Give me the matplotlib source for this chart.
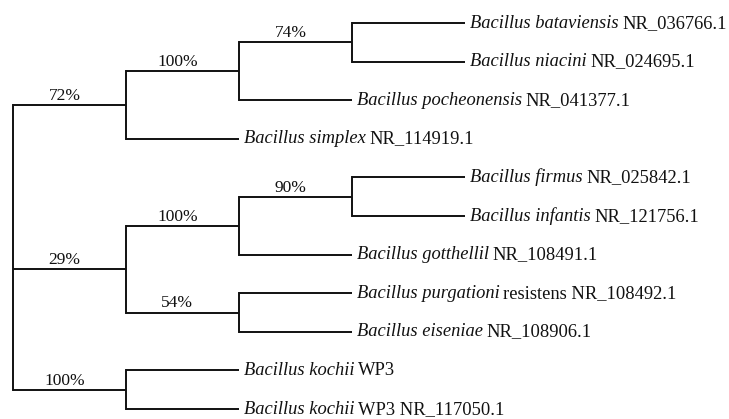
import matplotlib.pyplot as plt

# leaves, top to bottom
species = ["Bacillus bataviensis", "Bacillus niacini", "Bacillus pocheonensis", "Bacillus simplex",
           "Bacillus firmus", "Bacillus infantis", "Bacillus gotthellil", "Bacillus purgationi",
           "Bacillus eiseniae", "Bacillus kochii", "Bacillus kochii"]
accessions = ["NR_036766.1", "NR_024695.1", "NR_041377.1", "NR_114919.1",
              "NR_025842.1", "NR_121756.1", "NR_108491.1", "resistens NR_108492.1",
              "NR_108906.1", "WP3", "WP3 NR_117050.1"]
leaf_parent = ["n3", "n3", "n2", "n1", "n6", "n6", "n5", "n7", "n7", "n8", "n8"]
leaf_branch = [1, 1, 1, 1, 1, 1, 1, 1, 1, 1, 1]

# internal clades
clades = ["n1", "n2", "n3", "n4", "n5", "n6", "n7", "n8"]
clade_parent = ["root", "n1", "n2", "root", "n4", "n5", "n4", "root"]
clade_branch = [1, 1, 1, 1, 1, 1, 1, 1]
bootstrap = [72, 100, 74, 29, 100, 90, 54, 100]

plt.rcParams["font.family"] = ["Liberation Serif", "DejaVu Serif"]
LW = 1.4
INK = "#111111"

fig = plt.figure(figsize=(7.29, 4.19), dpi=100)
ax = fig.add_axes([0, 0, 1, 1])
ax.set_xlim(-13 / 113, (729 - 13) / 113)
ax.set_ylim(10 + 10 / 38.6, -23 / 38.6)
ax.axis("off")

# depth of every node from the root
depth = {"root": 0.0}
for c, p, b in zip(clades, clade_parent, clade_branch):
    depth[c] = depth[p] + b

# y of leaves is their order, clades sit midway between their children
ypos = {}
children = {n: [] for n in ["root"] + clades}
for i, p in enumerate(leaf_parent):
    ypos[("leaf", i)] = float(i)
    children[p].append(("leaf", i))
for c, p in zip(clades, clade_parent):
    children[p].append(c)


def node_y(n):
    if n in ypos:
        return ypos[n]
    ys = [node_y(ch) for ch in children[n]]
    ypos[n] = (min(ys) + max(ys)) / 2
    return ypos[n]


node_y("root")

# vertical connectors
for n, chs in children.items():
    ys = [ypos[ch] for ch in chs]
    ax.plot([depth[n], depth[n]], [min(ys), max(ys)], color=INK, lw=LW, solid_capstyle="projecting")

# clade branches with bootstrap values
for c, p, b, bs in zip(clades, clade_parent, clade_branch, bootstrap):
    y = ypos[c]
    ax.plot([depth[p], depth[c]], [y, y], color=INK, lw=LW, solid_capstyle="butt")
    ax.text((depth[p] + depth[c]) / 2 - 0.045, y - 0.13, f"{bs}%", ha="center", va="baseline",
            fontsize=12.5, color=INK)

# leaf branches and names
italic = []
for i, (p, b) in enumerate(zip(leaf_parent, leaf_branch)):
    y = ypos[("leaf", i)]
    x_tip = depth[p] + b
    ax.plot([depth[p], x_tip], [y, y], color=INK, lw=LW, solid_capstyle="butt")
    t = ax.text(x_tip + 0.04, y + 0.12, species[i], style="italic", ha="left", va="baseline",
                fontsize=13.3, color=INK)
    italic.append((t, y))

fig.canvas.draw()
inv = ax.transData.inverted()
for (t, y), acc in zip(italic, accessions):
    x_end = inv.transform(t.get_window_extent().corners()[-1])[0]
    ax.text(x_end + 0.035, y + 0.12, acc, ha="left", va="baseline", fontsize=13.3, color=INK)

fig.savefig("out.png", dpi=100)
